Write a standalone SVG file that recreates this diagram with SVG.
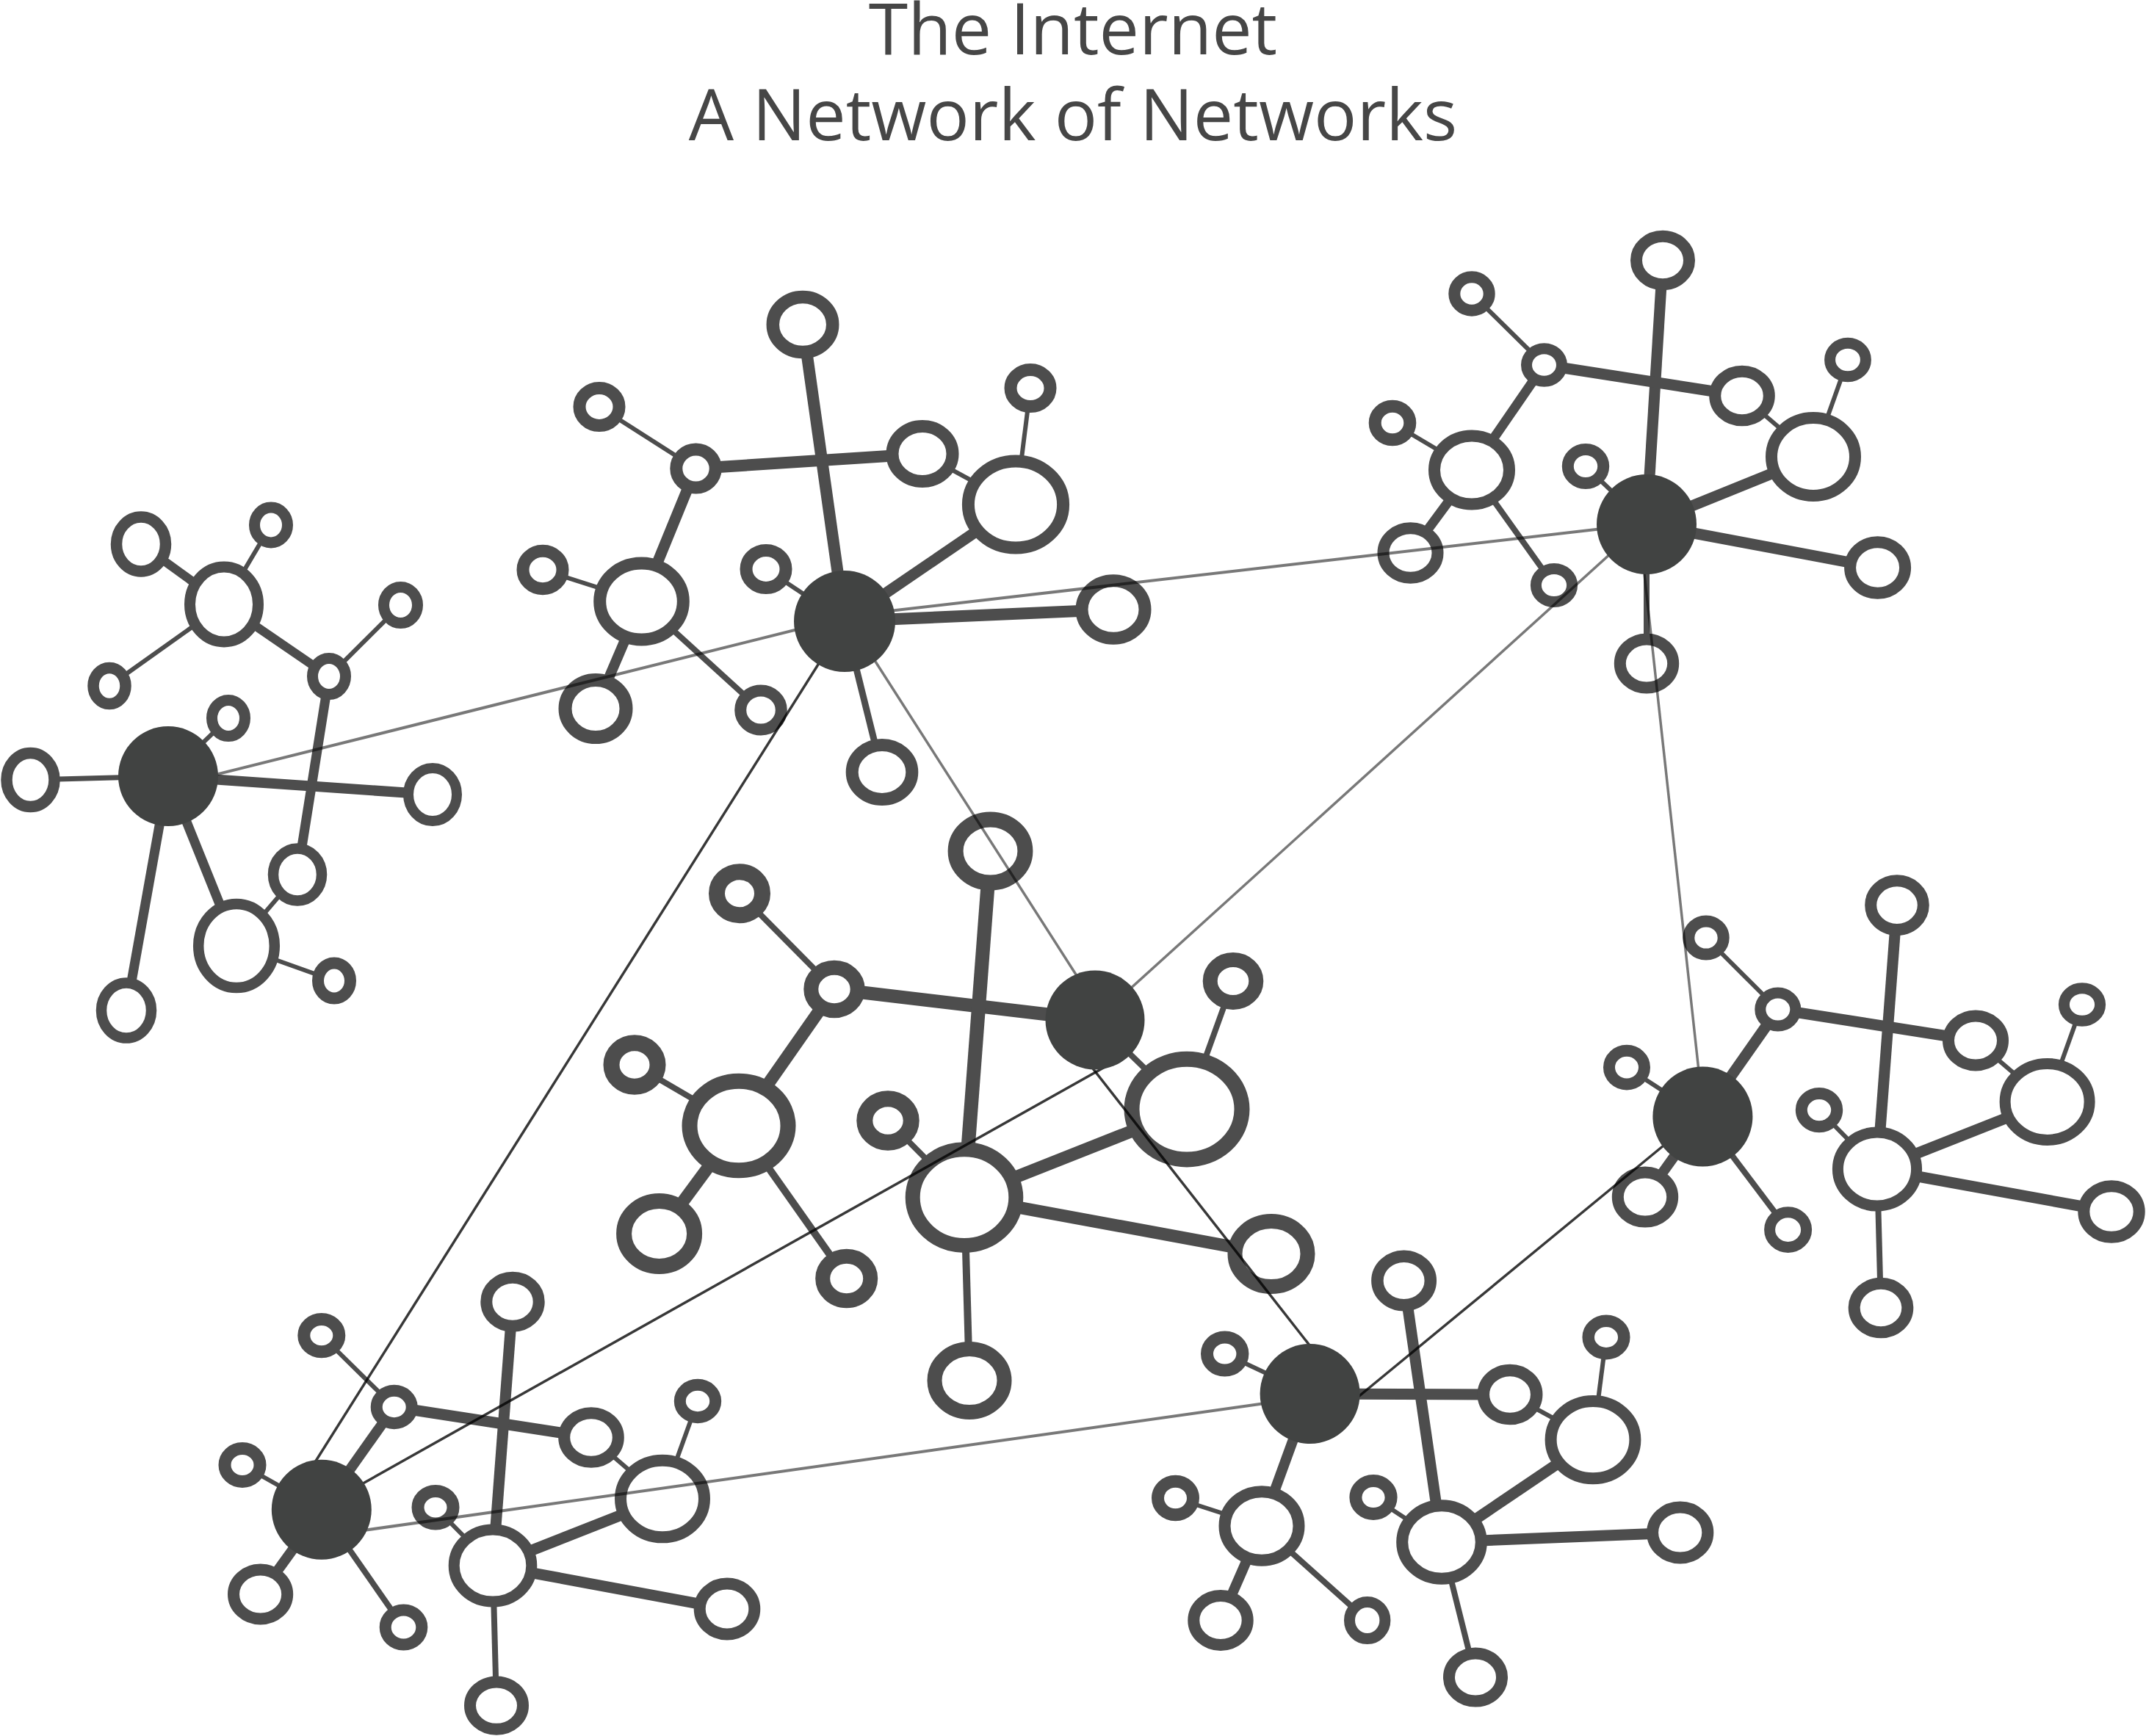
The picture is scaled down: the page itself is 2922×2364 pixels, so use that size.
<svg xmlns="http://www.w3.org/2000/svg" width="2922" height="2364" viewBox="0 0 2922 2364">
<style>
.t{font-family:"Open Sans","Liberation Sans",sans-serif;font-size:97px;fill:#464646;text-anchor:middle}
.e line{stroke:#4d4d4d;stroke-linecap:butt}
.n{fill:#fff;stroke:#4d4d4d}
.h{fill:#414342}
.lg{stroke:#000;stroke-opacity:.53}
.ld{stroke:#000;stroke-opacity:.78}
</style>
<rect width="2922" height="2364" fill="#fff"/>
<g id="title">
<text class="t" x="1461" y="74">The Internet</text>
<text class="t" x="1461" y="191">A Network of Networks</text>
</g>
<g id="connectors" class="e">
<!-- A -->
<line x1="229" y1="1057" x2="41.5" y2="1062" stroke-width="7"/>
<line x1="229" y1="1057" x2="589" y2="1082" stroke-width="14"/>
<line x1="229" y1="1057" x2="311" y2="978" stroke-width="6"/>
<line x1="229" y1="1057" x2="172" y2="1376" stroke-width="13"/>
<line x1="229" y1="1057" x2="322" y2="1288" stroke-width="13"/>
<line x1="322" y1="1288" x2="405" y2="1191" stroke-width="6"/>
<line x1="322" y1="1288" x2="455" y2="1335.5" stroke-width="6"/>
<line x1="405" y1="1191" x2="448" y2="921" stroke-width="13"/>
<line x1="448" y1="921" x2="305" y2="823" stroke-width="12"/>
<line x1="448" y1="921" x2="545.5" y2="824" stroke-width="6"/>
<line x1="305" y1="823" x2="192" y2="741" stroke-width="12"/>
<line x1="305" y1="823" x2="369" y2="715" stroke-width="6"/>
<line x1="305" y1="823" x2="149" y2="934" stroke-width="6"/>
<!-- B -->
<line x1="1150" y1="846" x2="1093" y2="442" stroke-width="16"/>
<line x1="1150" y1="846" x2="1383" y2="687" stroke-width="15"/>
<line x1="1150" y1="846" x2="1516" y2="830" stroke-width="16"/>
<line x1="1150" y1="846" x2="1043" y2="775" stroke-width="6"/>
<line x1="1150" y1="846" x2="1201" y2="1051.5" stroke-width="9"/>
<line x1="947.5" y1="638" x2="1256" y2="618" stroke-width="16"/>
<line x1="947.5" y1="638" x2="873.5" y2="819" stroke-width="15"/>
<line x1="947.5" y1="638" x2="816" y2="554" stroke-width="6"/>
<line x1="1256" y1="618" x2="1383" y2="687" stroke-width="6"/>
<line x1="1383" y1="687" x2="1403" y2="528.6" stroke-width="6"/>
<line x1="873.5" y1="819" x2="739" y2="776" stroke-width="6"/>
<line x1="873.5" y1="819" x2="811" y2="965" stroke-width="14"/>
<line x1="873.5" y1="819" x2="1036" y2="967" stroke-width="8"/>
<!-- C -->
<line x1="2242" y1="714" x2="2264" y2="354.5" stroke-width="15"/>
<line x1="2242" y1="714" x2="2469" y2="622" stroke-width="15"/>
<line x1="2242" y1="714" x2="2556.6" y2="773" stroke-width="15"/>
<line x1="2242" y1="714" x2="2159" y2="635" stroke-width="6"/>
<line x1="2242" y1="714" x2="2242" y2="903.6" stroke-width="8"/>
<line x1="2102.5" y1="497" x2="2372" y2="539" stroke-width="15"/>
<line x1="2102.5" y1="497" x2="2004" y2="640" stroke-width="13"/>
<line x1="2102.5" y1="497" x2="2004" y2="400" stroke-width="6"/>
<line x1="2372" y1="539" x2="2469" y2="622" stroke-width="6"/>
<line x1="2469" y1="622" x2="2516" y2="490" stroke-width="6"/>
<line x1="2004" y1="640" x2="1896" y2="576" stroke-width="6"/>
<line x1="2004" y1="640" x2="1920.5" y2="753" stroke-width="13"/>
<line x1="2004" y1="640" x2="2116" y2="797" stroke-width="8"/>
<!-- D -->
<line x1="1136" y1="1347" x2="1491" y2="1389" stroke-width="18"/>
<line x1="1491" y1="1389" x2="1616" y2="1510.6" stroke-width="8"/>
<line x1="1313" y1="1630.6" x2="1348.5" y2="1159" stroke-width="19"/>
<line x1="1136" y1="1347" x2="1007" y2="1216.7" stroke-width="8"/>
<line x1="1136" y1="1347" x2="1006" y2="1533" stroke-width="17"/>
<line x1="1006" y1="1533" x2="864" y2="1450" stroke-width="8"/>
<line x1="1006" y1="1533" x2="897.6" y2="1680" stroke-width="17"/>
<line x1="1006" y1="1533" x2="1152.7" y2="1741" stroke-width="10"/>
<line x1="1313" y1="1630.6" x2="1209" y2="1526" stroke-width="8"/>
<line x1="1313" y1="1630.6" x2="1616" y2="1510.6" stroke-width="17"/>
<line x1="1313" y1="1630.6" x2="1731" y2="1707.6" stroke-width="17"/>
<line x1="1313" y1="1630.6" x2="1320" y2="1880" stroke-width="10"/>
<line x1="1616" y1="1510.6" x2="1679" y2="1336" stroke-width="8"/>
<!-- E -->
<line x1="2318.4" y1="1520.5" x2="2420.8" y2="1374.6" stroke-width="15"/>
<line x1="2318.4" y1="1520.5" x2="2215" y2="1453.6" stroke-width="6"/>
<line x1="2318.4" y1="1520.5" x2="2240" y2="1630" stroke-width="14"/>
<line x1="2318.4" y1="1520.5" x2="2434.6" y2="1674.6" stroke-width="8"/>
<line x1="2420.8" y1="1374.6" x2="2323" y2="1277" stroke-width="6"/>
<line x1="2420.8" y1="1374.6" x2="2690" y2="1417" stroke-width="15"/>
<line x1="2690" y1="1417" x2="2787.6" y2="1500.4" stroke-width="6"/>
<line x1="2787.6" y1="1500.4" x2="2835" y2="1368" stroke-width="6"/>
<line x1="2556" y1="1592" x2="2583" y2="1232.6" stroke-width="15"/>
<line x1="2556" y1="1592" x2="2477" y2="1511.6" stroke-width="6"/>
<line x1="2556" y1="1592" x2="2787.6" y2="1500.4" stroke-width="15"/>
<line x1="2556" y1="1592" x2="2875" y2="1650" stroke-width="15"/>
<line x1="2556" y1="1592" x2="2561" y2="1781" stroke-width="8"/>
<!-- G -->
<line x1="437.8" y1="2055.8" x2="536.7" y2="1916" stroke-width="14"/>
<line x1="437.8" y1="2055.8" x2="330" y2="1995" stroke-width="6"/>
<line x1="437.8" y1="2055.8" x2="354.6" y2="2171" stroke-width="14"/>
<line x1="437.8" y1="2055.8" x2="549.5" y2="2216" stroke-width="8"/>
<line x1="536.7" y1="1916" x2="437.8" y2="1818.6" stroke-width="6"/>
<line x1="536.7" y1="1916" x2="805" y2="1957.5" stroke-width="15"/>
<line x1="805" y1="1957.5" x2="902" y2="2041" stroke-width="6"/>
<line x1="902" y1="2041" x2="950" y2="1908" stroke-width="6"/>
<line x1="671" y1="2132" x2="698" y2="1772.8" stroke-width="15"/>
<line x1="671" y1="2132" x2="593" y2="2052.8" stroke-width="6"/>
<line x1="671" y1="2132" x2="902" y2="2041" stroke-width="15"/>
<line x1="671" y1="2132" x2="990" y2="2191" stroke-width="15"/>
<line x1="671" y1="2132" x2="676" y2="2322.6" stroke-width="8"/>
<!-- F -->
<line x1="1783.6" y1="1898" x2="1667.7" y2="1843.5" stroke-width="6"/>
<line x1="1783.6" y1="1898" x2="2056" y2="1899" stroke-width="15"/>
<line x1="1783.6" y1="1898" x2="1718" y2="2078" stroke-width="14"/>
<line x1="2056" y1="1899" x2="2169" y2="1960.6" stroke-width="6"/>
<line x1="2169" y1="1960.6" x2="2187" y2="1821" stroke-width="6"/>
<line x1="1718" y1="2078" x2="1600.5" y2="2040" stroke-width="6"/>
<line x1="1718" y1="2078" x2="1662" y2="2206.5" stroke-width="14"/>
<line x1="1718" y1="2078" x2="1861.7" y2="2206.5" stroke-width="8"/>
<line x1="1963" y1="2100" x2="1911.6" y2="1744" stroke-width="15"/>
<line x1="1963" y1="2100" x2="1870" y2="2039" stroke-width="6"/>
<line x1="1963" y1="2100" x2="2169" y2="1960.6" stroke-width="15"/>
<line x1="1963" y1="2100" x2="2287.7" y2="2087" stroke-width="15"/>
<line x1="1963" y1="2100" x2="2009" y2="2284" stroke-width="8"/>
</g>
<!-- cluster A nodes -->
<g id="a1"><ellipse class="n" cx="41.5" cy="1062" rx="32.5" ry="36.5" stroke-width="15.5"/></g>
<g id="a2"><ellipse class="n" cx="192" cy="741" rx="33.5" ry="37" stroke-width="15.5"/></g>
<g id="a3"><ellipse class="n" cx="369" cy="715" rx="22.5" ry="24" stroke-width="15"/></g>
<g id="a4"><ellipse class="n" cx="305" cy="823" rx="46.5" ry="51" stroke-width="15"/></g>
<g id="a5"><ellipse class="n" cx="149" cy="934" rx="22" ry="24.5" stroke-width="15.5"/></g>
<g id="a6"><ellipse class="n" cx="448" cy="921" rx="22.5" ry="24.5" stroke-width="15"/></g>
<g id="a7"><ellipse class="n" cx="545.5" cy="824" rx="23" ry="24.5" stroke-width="15"/></g>
<g id="a8"><ellipse class="n" cx="311" cy="978" rx="22.5" ry="24.5" stroke-width="15"/></g>
<g id="a9"><ellipse class="n" cx="589" cy="1082" rx="33" ry="36" stroke-width="14"/></g>
<g id="a10"><ellipse class="n" cx="405" cy="1191" rx="33" ry="35.5" stroke-width="14.5"/></g>
<g id="a11"><ellipse class="n" cx="322" cy="1288" rx="51.8" ry="57" stroke-width="14.5"/></g>
<g id="a12"><ellipse class="n" cx="455" cy="1335.5" rx="22" ry="24" stroke-width="16"/></g>
<g id="a13"><ellipse class="n" cx="172" cy="1376" rx="34" ry="37.5" stroke-width="14.5"/></g>
<!-- cluster B nodes -->
<g id="b1"><ellipse class="n" cx="1093" cy="442" rx="40.7" ry="37.5" stroke-width="17.5"/></g>
<g id="b2"><ellipse class="n" cx="1403" cy="528.6" rx="27" ry="25" stroke-width="17"/></g>
<g id="b3"><ellipse class="n" cx="1383" cy="687" rx="64.6" ry="59" stroke-width="17"/></g>
<g id="b4"><ellipse class="n" cx="1256" cy="618" rx="41" ry="37.5" stroke-width="17"/></g>
<g id="b5"><ellipse class="n" cx="947.5" cy="638" rx="26.7" ry="26" stroke-width="17"/></g>
<g id="b6"><ellipse class="n" cx="816" cy="554" rx="27" ry="25.4" stroke-width="17"/></g>
<g id="b7"><ellipse class="n" cx="873.5" cy="819" rx="56.8" ry="52" stroke-width="17"/></g>
<g id="b8"><ellipse class="n" cx="739" cy="776" rx="27" ry="25.7" stroke-width="17"/></g>
<g id="b9"><ellipse class="n" cx="1043" cy="775" rx="27" ry="25.5" stroke-width="17"/></g>
<g id="b10"><ellipse class="n" cx="811" cy="965" rx="41.5" ry="39" stroke-width="18"/></g>
<g id="b11"><ellipse class="n" cx="1036" cy="967" rx="27.8" ry="26.5" stroke-width="16"/></g>
<g id="b12"><ellipse class="n" cx="1516" cy="830" rx="43" ry="39.3" stroke-width="17"/></g>
<g id="b13"><ellipse class="n" cx="1201" cy="1051.5" rx="40.8" ry="37" stroke-width="17"/></g>
<!-- cluster C nodes -->
<g id="c1"><ellipse class="n" cx="2264" cy="354.5" rx="36" ry="32.8" stroke-width="16"/></g>
<g id="c2"><ellipse class="n" cx="2004" cy="400" rx="23.7" ry="22.7" stroke-width="16"/></g>
<g id="c3"><ellipse class="n" cx="2102.5" cy="497" rx="24" ry="22.3" stroke-width="15"/></g>
<g id="c4"><ellipse class="n" cx="2372" cy="539" rx="36.8" ry="33.3" stroke-width="16"/></g>
<g id="c5"><ellipse class="n" cx="2516" cy="490" rx="24.4" ry="22.8" stroke-width="15"/></g>
<g id="c6"><ellipse class="n" cx="2469" cy="622" rx="57" ry="53" stroke-width="16"/></g>
<g id="c7"><ellipse class="n" cx="2004" cy="640" rx="51" ry="46.5" stroke-width="16"/></g>
<g id="c8"><ellipse class="n" cx="1896" cy="576" rx="23.8" ry="22.7" stroke-width="17"/></g>
<g id="c9"><ellipse class="n" cx="2159" cy="635" rx="24.2" ry="23" stroke-width="16"/></g>
<g id="c10"><ellipse class="n" cx="1920.5" cy="753" rx="37" ry="33.7" stroke-width="16"/></g>
<g id="c11"><ellipse class="n" cx="2116" cy="797" rx="24.6" ry="22.5" stroke-width="15"/></g>
<g id="c12"><ellipse class="n" cx="2556.6" cy="773" rx="37.5" ry="34.7" stroke-width="16"/></g>
<g id="c13"><ellipse class="n" cx="2242" cy="903.6" rx="36.2" ry="33" stroke-width="16"/></g>
<!-- cluster D nodes -->
<g id="d1"><ellipse class="n" cx="1348.5" cy="1159" rx="47.4" ry="43" stroke-width="21"/></g>
<g id="d2"><ellipse class="n" cx="1007" cy="1216.7" rx="31" ry="29.5" stroke-width="22"/></g>
<g id="d3"><ellipse class="n" cx="1136" cy="1347" rx="31.7" ry="29.3" stroke-width="20"/></g>
<g id="d4"><ellipse class="n" cx="1006" cy="1533" rx="67" ry="60.8" stroke-width="21"/></g>
<g id="d5"><ellipse class="n" cx="864" cy="1450" rx="31.5" ry="29.7" stroke-width="22"/></g>
<g id="d6"><ellipse class="n" cx="897.6" cy="1680" rx="48" ry="44.5" stroke-width="21"/></g>
<g id="d7"><ellipse class="n" cx="1152.7" cy="1741" rx="32.5" ry="30.2" stroke-width="20"/></g>
<g id="d8"><ellipse class="n" cx="1209" cy="1526" rx="31.7" ry="29.8" stroke-width="22"/></g>
<g id="d9"><ellipse class="n" cx="1313" cy="1630.6" rx="70.3" ry="65.3" stroke-width="20"/></g>
<g id="d10"><ellipse class="n" cx="1616" cy="1510.6" rx="75" ry="68.3" stroke-width="21"/></g>
<g id="d11"><ellipse class="n" cx="1679" cy="1336" rx="31.3" ry="29" stroke-width="20"/></g>
<g id="d12"><ellipse class="n" cx="1731" cy="1707.6" rx="49.5" ry="44.5" stroke-width="20"/></g>
<g id="d13"><ellipse class="n" cx="1320" cy="1880" rx="47.5" ry="43" stroke-width="20"/></g>
<!-- cluster E nodes -->
<g id="e1"><ellipse class="n" cx="2323" cy="1277" rx="23.7" ry="22.6" stroke-width="16"/></g>
<g id="e2"><ellipse class="n" cx="2420.8" cy="1374.6" rx="24" ry="22.5" stroke-width="15"/></g>
<g id="e3"><ellipse class="n" cx="2215" cy="1453.6" rx="24" ry="22.8" stroke-width="16"/></g>
<g id="e4"><ellipse class="n" cx="2583" cy="1232.6" rx="35.8" ry="33.3" stroke-width="16"/></g>
<g id="e5"><ellipse class="n" cx="2690" cy="1417" rx="37" ry="33.5" stroke-width="16"/></g>
<g id="e6"><ellipse class="n" cx="2835" cy="1368" rx="24.6" ry="22.2" stroke-width="15"/></g>
<g id="e7"><ellipse class="n" cx="2787.6" cy="1500.4" rx="57.5" ry="52" stroke-width="15"/></g>
<g id="e8"><ellipse class="n" cx="2477" cy="1511.6" rx="24.2" ry="22.6" stroke-width="16"/></g>
<g id="e9"><ellipse class="n" cx="2556" cy="1592" rx="53.6" ry="50" stroke-width="15"/></g>
<g id="e10"><ellipse class="n" cx="2240" cy="1630" rx="37.2" ry="33.5" stroke-width="16"/></g>
<g id="e11"><ellipse class="n" cx="2434.6" cy="1674.6" rx="25" ry="23.8" stroke-width="15"/></g>
<g id="e12"><ellipse class="n" cx="2875" cy="1650" rx="37.7" ry="34.8" stroke-width="16"/></g>
<g id="e13"><ellipse class="n" cx="2561" cy="1781" rx="36.3" ry="33.2" stroke-width="16"/></g>
<!-- cluster G nodes -->
<g id="g1"><ellipse class="n" cx="437.8" cy="1818.6" rx="24" ry="22.2" stroke-width="17"/></g>
<g id="g2"><ellipse class="n" cx="536.7" cy="1916" rx="24" ry="22.2" stroke-width="16"/></g>
<g id="g3"><ellipse class="n" cx="330" cy="1995" rx="24" ry="22.4" stroke-width="17"/></g>
<g id="g4"><ellipse class="n" cx="698" cy="1772.8" rx="35.7" ry="33" stroke-width="16"/></g>
<g id="g5"><ellipse class="n" cx="805" cy="1957.5" rx="36.8" ry="33.3" stroke-width="16"/></g>
<g id="g6"><ellipse class="n" cx="950" cy="1908" rx="24.2" ry="22.2" stroke-width="16"/></g>
<g id="g7"><ellipse class="n" cx="902" cy="2041" rx="57" ry="52.3" stroke-width="16"/></g>
<g id="g8"><ellipse class="n" cx="593" cy="2052.8" rx="24" ry="22.3" stroke-width="17"/></g>
<g id="g9"><ellipse class="n" cx="671" cy="2132" rx="52.8" ry="49" stroke-width="15"/></g>
<g id="g10"><ellipse class="n" cx="354.6" cy="2171" rx="36.6" ry="33.5" stroke-width="16"/></g>
<g id="g11"><ellipse class="n" cx="549.5" cy="2216" rx="24.8" ry="23.5" stroke-width="16"/></g>
<g id="g12"><ellipse class="n" cx="990" cy="2191" rx="37.3" ry="34.5" stroke-width="16"/></g>
<g id="g13"><ellipse class="n" cx="676" cy="2322.6" rx="36" ry="32.2" stroke-width="16"/></g>
<!-- cluster F nodes -->
<g id="f1"><ellipse class="n" cx="1667.7" cy="1843.5" rx="24.2" ry="22.6" stroke-width="17"/></g>
<g id="f2"><ellipse class="n" cx="1911.6" cy="1744" rx="36.2" ry="33.2" stroke-width="16.5"/></g>
<g id="f3"><ellipse class="n" cx="2056" cy="1899" rx="36.2" ry="33" stroke-width="16.5"/></g>
<g id="f4"><ellipse class="n" cx="2187" cy="1821" rx="24.3" ry="22.2" stroke-width="16.5"/></g>
<g id="f5"><ellipse class="n" cx="2169" cy="1960.6" rx="57.4" ry="52.7" stroke-width="16"/></g>
<g id="f6"><ellipse class="n" cx="1600.5" cy="2040" rx="24" ry="22.7" stroke-width="17"/></g>
<g id="f7"><ellipse class="n" cx="1718" cy="2078" rx="50.5" ry="46.8" stroke-width="16"/></g>
<g id="f8"><ellipse class="n" cx="1870" cy="2039" rx="24.1" ry="22.5" stroke-width="17"/></g>
<g id="f9"><ellipse class="n" cx="1963" cy="2100" rx="53.8" ry="49.8" stroke-width="16"/></g>
<g id="f10"><ellipse class="n" cx="2287.7" cy="2087" rx="37.6" ry="34.6" stroke-width="16"/></g>
<g id="f11"><ellipse class="n" cx="1662" cy="2206.5" rx="36.7" ry="33.5" stroke-width="16"/></g>
<g id="f12"><ellipse class="n" cx="1861.7" cy="2206.5" rx="24.2" ry="25" stroke-width="15"/></g>
<g id="f13"><ellipse class="n" cx="2009" cy="2284" rx="36" ry="32.5" stroke-width="16"/></g>
<g id="links">
<line class="lg" x1="229" y1="1071" x2="1150" y2="841" stroke-width="4"/>
<line class="lg" x1="1150" y1="839" x2="2242" y2="713" stroke-width="4"/>
<line class="lg" x1="1185" y1="890" x2="1481" y2="1352" stroke-width="3.5"/>
<line class="ld" x1="1136" y1="870" x2="417" y2="2010" stroke-width="3.5"/>
<line class="lg" x1="2205" y1="743" x2="1525" y2="1359" stroke-width="3.5"/>
<line class="lg" x1="2236.6" y1="760" x2="2315.4" y2="1480" stroke-width="3.5"/>
<line class="ld" x1="1477" y1="1441" x2="1798" y2="1851" stroke-width="3.5"/>
<line class="ld" x1="1515" y1="1447" x2="480" y2="2028" stroke-width="3.5"/>
<line class="lg" x1="470" y1="2087.5" x2="1740" y2="1908.5" stroke-width="4"/>
<line class="ld" x1="1841" y1="1909" x2="2276" y2="1551" stroke-width="3.5"/>
</g>
<g id="hubA"><circle class="h" cx="229" cy="1057" r="68"/></g>
<g id="hubB"><circle class="h" cx="1150" cy="846" r="69"/></g>
<g id="hubC"><circle class="h" cx="2242" cy="714" r="68"/></g>
<g id="hubD"><circle class="h" cx="1491" cy="1389" r="67.5"/></g>
<g id="hubE"><circle class="h" cx="2318.4" cy="1520.5" r="68"/></g>
<g id="hubF"><circle class="h" cx="1783.6" cy="1898" r="68"/></g>
<g id="hubG"><circle class="h" cx="437.8" cy="2055.8" r="68"/></g>
</svg>
